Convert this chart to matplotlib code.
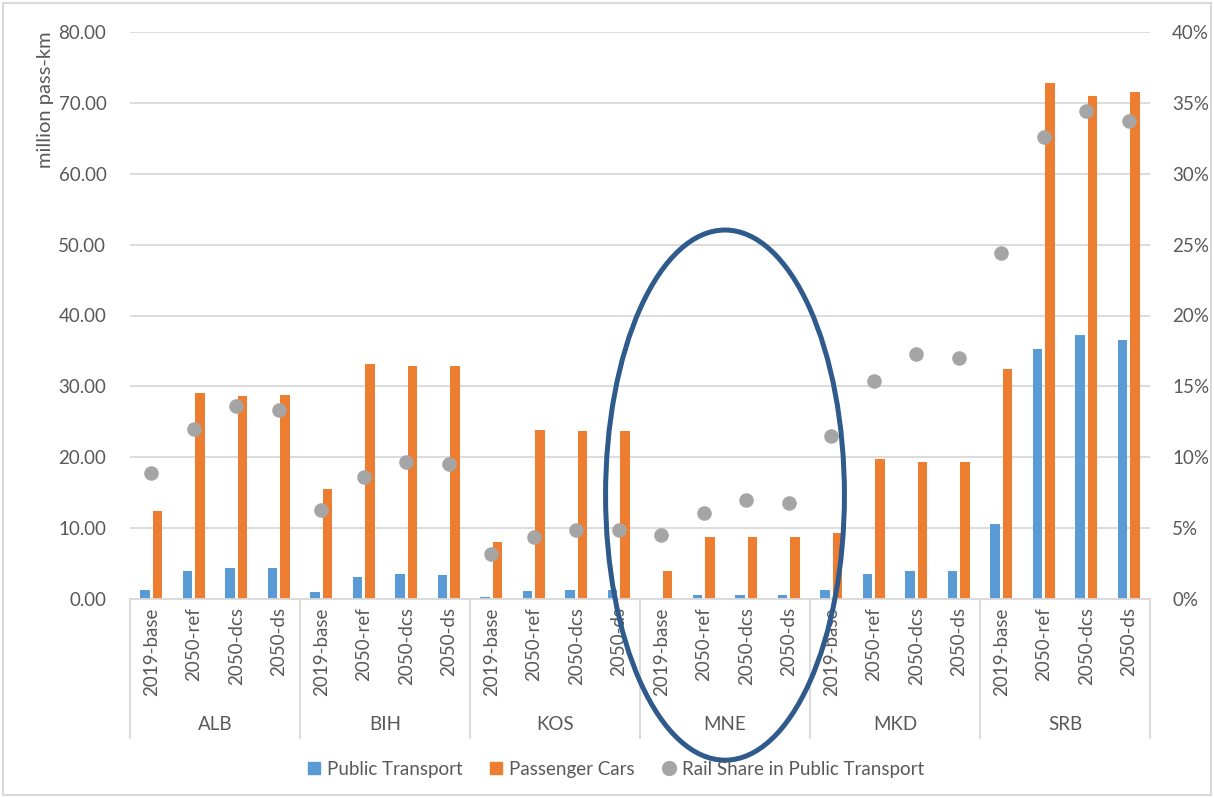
import matplotlib
matplotlib.use("Agg")
import matplotlib.pyplot as plt
import matplotlib.transforms as mtransforms
from matplotlib.patches import Ellipse, Rectangle
from matplotlib.lines import Line2D
from matplotlib.ticker import FuncFormatter

plt.rcParams['font.family'] = ['Lato', 'DejaVu Sans']

countries = ["ALB", "BIH", "KOS", "MNE", "MKD", "SRB"]
scenarios = ["2019-base", "2050-ref", "2050-dcs", "2050-ds"]

public_transport = [1.2, 4.0, 4.4, 4.4,
                    1.0, 3.1, 3.5, 3.4,
                    0.3, 1.1, 1.3, 1.3,
                    0.0, 0.6, 0.6, 0.6,
                    1.3, 3.5, 4.0, 4.0,
                    10.6, 35.3, 37.2, 36.6]
passenger_cars = [12.4, 29.1, 28.6, 28.8,
                  15.5, 33.2, 32.9, 32.9,
                  8.0, 23.9, 23.7, 23.7,
                  3.9, 8.7, 8.7, 8.7,
                  9.3, 19.7, 19.3, 19.4,
                  32.4, 72.8, 71.0, 71.6]
rail_share = [0.089, 0.120, 0.136, 0.133,
              0.063, 0.086, 0.097, 0.095,
              0.032, 0.044, 0.049, 0.049,
              0.045, 0.061, 0.070, 0.068,
              0.115, 0.154, 0.173, 0.170,
              0.244, 0.326, 0.344, 0.337]

BLUE = "#5B9BD5"
ORANGE = "#ED7D31"
GRAY = "#A5A5A5"
TEXT = "#595959"
GRID = "#D9D9D9"
FS = 13.5

W, H = 1214, 798
fig = plt.figure(figsize=(W / 100, H / 100), dpi=100)

def px(x0, y0, x1, y1):
    return [x0 / W, 1 - y1 / H, (x1 - x0) / W, (y1 - y0) / H]

ax = fig.add_axes(px(130, 32, 1150, 599))
n = len(public_transport)
xs = list(range(n))
bw = 0.22
off = 0.15
ax.bar([x - off for x in xs], public_transport, width=bw, color=BLUE, zorder=2)
ax.bar([x + off for x in xs], passenger_cars, width=bw, color=ORANGE, zorder=2)

ax.set_xlim(-0.5, n - 0.5)
ax.set_ylim(0, 80)
ax.set_yticks(range(0, 81, 10))
ax.yaxis.set_major_formatter(FuncFormatter(lambda v, p: f"{v:.2f}"))
ax.tick_params(axis='y', length=0, pad=17, labelsize=FS, labelcolor=TEXT)
ax.grid(axis='y', color=GRID, linewidth=1.3, zorder=0)
ax.set_axisbelow(True)
for s in ["top", "left", "right"]:
    ax.spines[s].set_visible(False)
ax.spines["bottom"].set_color(GRID)
ax.spines["bottom"].set_linewidth(1.3)

ax.set_xticks(xs)
ax.set_xticklabels(scenarios * len(countries), rotation=90, fontsize=FS, color=TEXT)
ax.tick_params(axis='x', length=0, pad=6)

# Group separators and country labels under the category axis
trans = mtransforms.blended_transform_factory(ax.transData, ax.transAxes)
sep_bottom = (599 - 738) / 567
for g in range(len(countries) + 1):
    xg = g * 4 - 0.5
    ax.add_line(Line2D([xg, xg], [0, sep_bottom], transform=trans,
                       color=GRID, linewidth=1.3, clip_on=False))
for g, c in enumerate(countries):
    ax.text(g * 4 + 1.5, (599 - 725) / 567, c, transform=trans, ha='center',
            va='center', fontsize=FS, color=TEXT)

ax2 = ax.twinx()
ax2.set_ylim(0, 0.40)
ax2.set_yticks([i * 0.05 for i in range(9)])
ax2.yaxis.set_major_formatter(FuncFormatter(lambda v, p: f"{v * 100:.0f}%"))
ax2.tick_params(axis='y', length=0, pad=16, labelsize=FS, labelcolor=TEXT)
for s in ["top", "left", "right", "bottom"]:
    ax2.spines[s].set_visible(False)
ax2.scatter(xs, rail_share, s=110, color=GRAY, zorder=3, linewidths=0)

# Highlight around the MNE group
ell = Ellipse((13.5, 0.0733), width=5.62, height=0.374, transform=ax2.transData,
              fill=False, edgecolor="#2F5A8C", linewidth=3.6, clip_on=False, zorder=10)
ax2.add_patch(ell)

fig.text(45 / W, 1 - 100 / H, "million pass-km", rotation=90, ha='center',
         va='center', fontsize=14.5, color=TEXT)

handles = [
    Line2D([], [], marker='s', linestyle='none', markersize=8, color=BLUE),
    Line2D([], [], marker='s', linestyle='none', markersize=8, color=ORANGE),
    Line2D([], [], marker='o', linestyle='none', markersize=10, color=GRAY),
]
labels = ["Public Transport", "Passenger Cars", "Rail Share in Public Transport"]
leg = fig.legend(handles, labels, loc='center', bbox_to_anchor=(615 / W, 1 - 769 / H),
                 ncol=3, frameon=False, fontsize=FS, handlelength=0.8,
                 handletextpad=0.3, columnspacing=1.4)
for t in leg.get_texts():
    t.set_color(TEXT)

fig.patches.append(Rectangle((3 / W, 3 / H), 1 - 6 / W, 1 - 6 / H, transform=fig.transFigure,
                             fill=False, edgecolor=GRID, linewidth=1.5))

fig.savefig("out.png", dpi=100)
